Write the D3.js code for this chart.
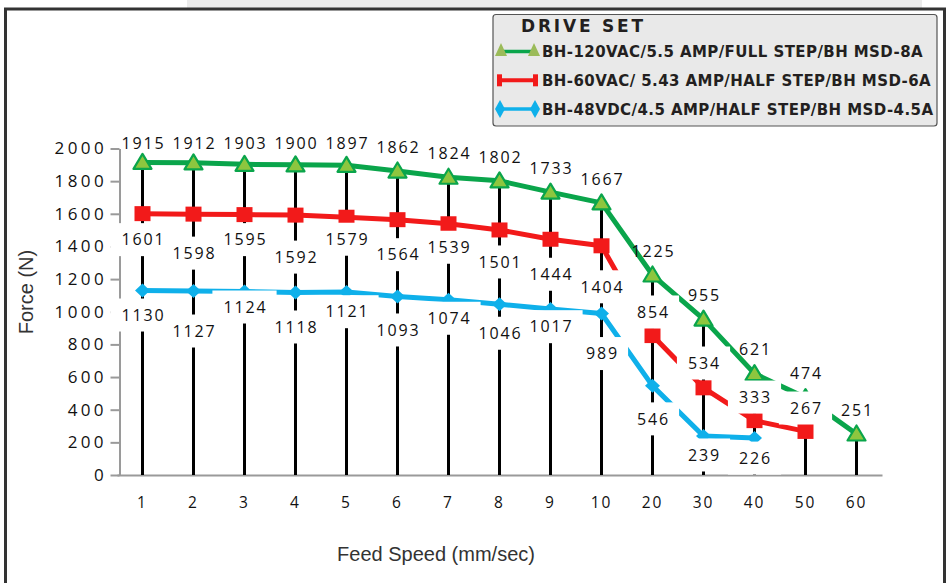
<!DOCTYPE html>
<html>
<head>
<meta charset="utf-8">
<script src="https://cdn.jsdelivr.net/npm/d3@7"></script>
<style>
body { margin: 0; background: #fff; }
svg { display: block; }
</style>
</head>
<body>
<div id="chart"></div>
<script>
// feed speed categories (mm/sec)
var speeds = ["1","2","3","4","5","6","7","8","9","10","20","30","40","50","60"];

// force values (N) for each drive set
var green120 = [1915,1912,1903,1900,1897,1862,1824,1802,1733,1667,1225,955,621,474,251];
var red60 = [1601,1598,1595,1592,1579,1564,1539,1501,1444,1404,854,534,333,267];
var blue48 = [1130,1127,1124,1118,1121,1093,1074,1046,1017,989,546,239,226];

var yTicks = [0,200,400,600,800,1000,1200,1400,1600,1800,2000];

var legendNames = [
  "BH-120VAC/5.5 AMP/FULL STEP/BH MSD-8A",
  "BH-60VAC/ 5.43 AMP/HALF STEP/BH MSD-6A",
  "BH-48VDC/4.5 AMP/HALF STEP/BH MSD-4.5A"
];

// label placement (offset from point, px) as laid out in the original
var redLabelDy = [26,39,25,42,22,35,23.5,32,35,41,-23.6,-24.8,-23.6,-23.4];
var blueLabelDy = [24.5,40,15.5,34.5,19.7,33.4,18.6,29,17.7,40,33,19,20];

var W = 948, H = 583;
var svg = d3.select("#chart").append("svg")
  .attr("width", W).attr("height", H);

// frame
svg.append("rect").attr("x", 187).attr("y", 0).attr("width", 735).attr("height", 8).attr("fill", "#ebebeb");
svg.append("path")
  .attr("d", "M5.5,583 V9 H944.5 V583")
  .attr("fill", "none").attr("stroke", "#333").attr("stroke-width", 3);

var x = d3.scaleBand().domain(speeds).range([117, 882]);
var cx = function(i) { return x(speeds[i]) + x.bandwidth() / 2; };
var y = d3.scaleLinear().domain([0, 2000]).range([475, 148.5]);

// y axis
var yAxis = svg.append("g")
  .attr("transform", "translate(119.5,0)")
  .call(d3.axisLeft(y).tickValues(yTicks).tickFormat(d3.format("d"))
    .tickSize(9).tickSizeOuter(0).tickPadding(3.5));
yAxis.select(".domain").attr("stroke", "#9a9a9a").attr("stroke-width", 2);
yAxis.selectAll(".tick line").attr("stroke", "#9a9a9a").attr("stroke-width", 2);
yAxis.selectAll(".tick text")
  .attr("font-family", "Open Sans").attr("font-size", 17).attr("letter-spacing", 3.4)
  .attr("fill", "#111");

// x axis
var xAxis = svg.append("g")
  .attr("transform", "translate(0,475)")
  .call(d3.axisBottom(x).tickSize(0).tickSizeOuter(0).tickPadding(22));
xAxis.select(".domain").attr("stroke", "#9a9a9a").attr("stroke-width", 2);
xAxis.selectAll(".tick text")
  .attr("font-family", "Open Sans").attr("font-size", 15.5).attr("letter-spacing", 2)
  .attr("fill", "#111");

// axis titles
svg.append("text")
  .attr("x", 436).attr("y", 561)
  .attr("text-anchor", "middle")
  .attr("font-family", "Liberation Sans").attr("font-size", 20).attr("fill", "#333")
  .text("Feed Speed (mm/sec)");
svg.append("text")
  .attr("transform", "translate(33,292)rotate(-90)")
  .attr("text-anchor", "middle")
  .attr("font-family", "Liberation Sans").attr("font-size", 20).attr("fill", "#333")
  .text("Force (N)");

// drop lines from highest value down to the axis
svg.append("g").selectAll("line")
  .data(speeds)
  .enter()
  .append("line")
  .attr("x1", (d, i) => cx(i)).attr("x2", (d, i) => cx(i))
  .attr("y1", (d, i) => y(d3.max([green120[i], red60[i], blue48[i]].filter(v => v != null))))
  .attr("y2", y(0))
  .attr("stroke", "#000").attr("stroke-width", 3);

var series = [
  {vals: green120, color: "#0aa54b"},
  {vals: red60, color: "#f21a1a"},
  {vals: blue48, color: "#0fb0ea"}
];

var line = d3.line().x((d, i) => cx(i)).y(d => y(d));
series.forEach(function(s) {
  svg.append("path")
    .attr("d", line(s.vals))
    .attr("fill", "none").attr("stroke", s.color).attr("stroke-width", 5)
    .attr("stroke-linejoin", "round");
});

// markers
svg.append("g").selectAll("path")
  .data(green120).enter().append("path")
  .attr("d", "M0,-8.5 L9,6.5 L-9,6.5 Z")
  .attr("transform", (d, i) => "translate(" + cx(i) + "," + y(d) + ")")
  .attr("fill", "#8dc63f").attr("stroke", "#0aa54b").attr("stroke-width", 2.2)
  .attr("stroke-linejoin", "round");
svg.append("g").selectAll("rect")
  .data(red60).enter().append("rect")
  .attr("x", (d, i) => cx(i) - 8).attr("y", d => y(d) - 7.5)
  .attr("width", 16).attr("height", 15)
  .attr("fill", "#f21a1a");
svg.append("g").selectAll("path")
  .data(blue48).enter().append("path")
  .attr("d", "M0,-7 L7.5,0 L0,7 L-7.5,0 Z")
  .attr("transform", (d, i) => "translate(" + cx(i) + "," + y(d) + ")")
  .attr("fill", "#0fb0ea");

// boxed data labels (red and blue): all white boxes first, then the texts
var boxLayer = svg.append("g");
var textLayer = svg.append("g");
function boxedLabels(vals, dys) {
  vals.forEach(function(v, i) {
    var ly = y(v) + dys[i];
    var rect = boxLayer.append("rect").attr("fill", "#fff");
    var t = textLayer.append("text")
      .attr("x", cx(i) + 1).attr("y", ly)
      .attr("dy", "0.36em")
      .attr("text-anchor", "middle")
      .attr("font-family", "Open Sans").attr("font-size", 16).attr("letter-spacing", 1.9)
      .attr("fill", "#111")
      .text(v);
    var w = t.node().getComputedTextLength();
    rect.attr("x", cx(i) - w / 2 - 10).attr("y", ly - 16.5)
      .attr("width", w + 20).attr("height", 33);
  });
}
boxedLabels(red60, redLabelDy);
boxedLabels(blue48, blueLabelDy);

// green labels above the points
textLayer.selectAll("text.g")
  .data(green120).enter().append("text")
  .attr("class", "g")
  .attr("x", (d, i) => cx(i) + 1)
  .attr("y", d => Math.max(y(d) - 24, 143))
  .attr("dy", "0.36em")
  .attr("text-anchor", "middle")
  .attr("font-family", "Open Sans").attr("font-size", 16).attr("letter-spacing", 1.9)
  .attr("fill", "#111")
  .text(d => d);

// legend
var lg = svg.append("g");
lg.append("rect")
  .attr("x", 493).attr("y", 14.5).attr("width", 444).attr("height", 111.5)
  .attr("rx", 3)
  .attr("fill", "#e9e9e9").attr("stroke", "#555").attr("stroke-width", 1.2);
lg.append("text")
  .attr("x", 521).attr("y", 31.5)
  .attr("font-family", "DejaVu Sans").attr("font-weight", "bold")
  .attr("font-size", 17).attr("letter-spacing", 2.8)
  .attr("fill", "#231f20")
  .text("DRIVE SET");

var rowY = [51.5, 80.3, 109];
// green row
lg.append("line").attr("x1", 500).attr("x2", 535).attr("y1", rowY[0]).attr("y2", rowY[0])
  .attr("stroke", "#0aa54b").attr("stroke-width", 3.5);
[501, 534].forEach(function(px) {
  lg.append("path")
    .attr("d", "M" + px + "," + (rowY[0] - 8.5) + " l6,13 l-12,0 Z")
    .attr("fill", "#9bbb59");
});
// red row
lg.append("line").attr("x1", 499).attr("x2", 536).attr("y1", rowY[1]).attr("y2", rowY[1])
  .attr("stroke", "#f21a1a").attr("stroke-width", 4);
[497, 533].forEach(function(px) {
  lg.append("rect").attr("x", px).attr("y", rowY[1] - 6).attr("width", 5).attr("height", 12)
    .attr("fill", "#f21a1a");
});
// blue row
lg.append("line").attr("x1", 500).attr("x2", 535).attr("y1", rowY[2]).attr("y2", rowY[2])
  .attr("stroke", "#0fb0ea").attr("stroke-width", 3.5);
[500, 535].forEach(function(px) {
  lg.append("path")
    .attr("d", "M" + px + "," + (rowY[2] - 9) + " l5,9 l-5,9 l-5,-9 Z")
    .attr("fill", "#0fb0ea");
});

lg.selectAll("text.name")
  .data(legendNames).enter().append("text")
  .attr("class", "name")
  .attr("x", 542).attr("y", (d, i) => rowY[i] + 5.5)
  .attr("font-family", "DejaVu Sans").attr("font-weight", "bold")
  .attr("font-size", 15).attr("letter-spacing", 0.42)
  .attr("fill", "#231f20")
  .text(d => d);
</script>
</body>
</html>
